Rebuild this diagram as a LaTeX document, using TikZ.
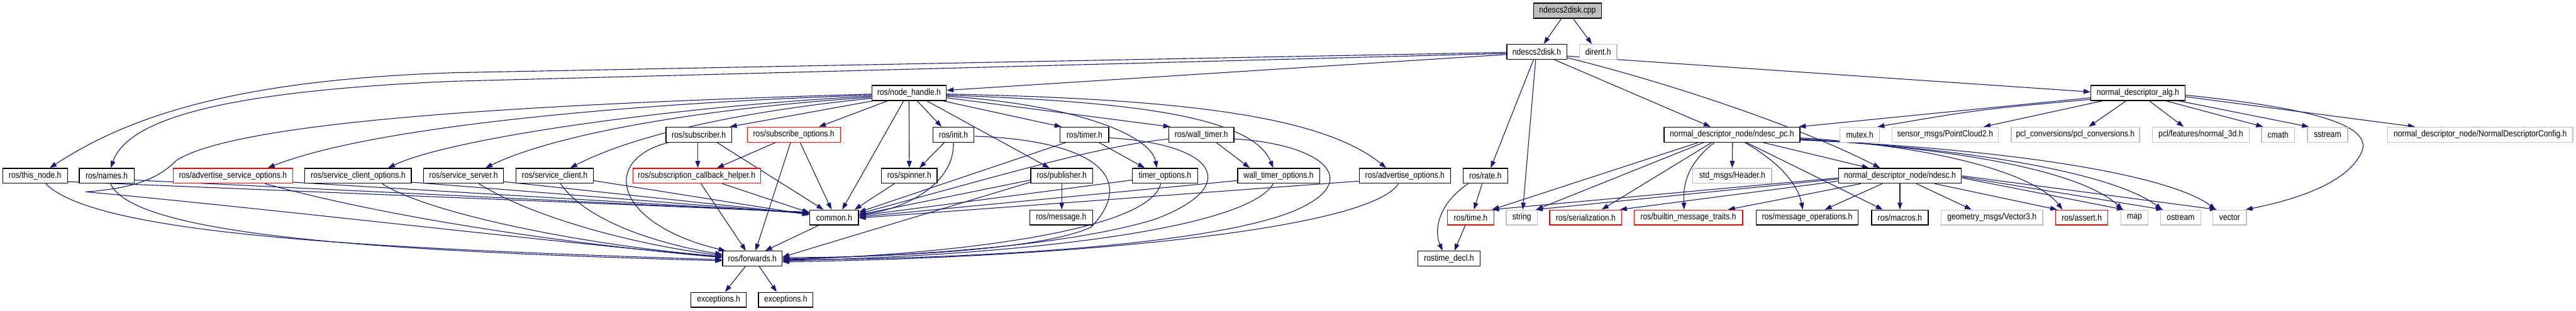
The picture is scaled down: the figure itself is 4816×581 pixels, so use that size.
\documentclass[tikz,border=0pt]{standalone}
\usepackage{fontspec}
\newfontfamily\dfont{Liberation Sans}[FakeStretch=0.87]
\usetikzlibrary{arrows.meta,calc}
\definecolor{edgeblue}{HTML}{191970}
\definecolor{extgray}{HTML}{BFBFBF}
\pgfdeclarelayer{bg}
\pgfsetlayers{bg,main}
\begin{document}
\begin{tikzpicture}[x=1pt,y=-1pt,
  box/.style={rectangle, minimum height=28pt, inner sep=0pt, font=\dfont\fontsize{16.5}{18}\selectfont, line width=1.5pt, fill=white},
  doc/.style={box, draw=black},
  ext/.style={box, draw=extgray},
  trunc/.style={box, draw=red},
  e/.style={draw=edgeblue, line width=1.3pt, -{Triangle[length=13pt,width=9pt]}}]
\useasboundingbox (0,0) rectangle (4816,581);
% row 0
\node[doc, fill=extgray, minimum width=127pt] (cpp) at (2930.5,20) {ndescs2disk.cpp};
% row 1
\node[doc, minimum width=112pt] (nh) at (2873,97) {ndescs2disk.h};
\node[ext, minimum width=70pt] (dirent) at (2988,97) {dirent.h};
% row 2
\node[doc, minimum width=139pt] (nodehandle) at (1699.5,174) {ros/node\_handle.h};
\node[doc, minimum width=176pt] (alg) at (3997,174) {normal\_descriptor\_alg.h};
% row 3
\node[doc, minimum width=123pt] (subscriber) at (1306.5,252) {ros/subscriber.h};
\node[trunc, minimum width=174pt] (subopts) at (1484,252) {ros/subscribe\_options.h};
\node[doc, minimum width=77pt] (init) at (1782.5,252) {ros/init.h};
\node[doc, minimum width=91pt] (timer) at (2027.5,252) {ros/timer.h};
\node[doc, minimum width=122pt] (walltimer) at (2246,252) {ros/wall\_timer.h};
\node[doc, minimum width=254pt] (ndescpc) at (3238,252) {normal\_descriptor\_node/ndesc\_pc.h};
\node[ext, minimum width=74pt] (mutex) at (3477,252) {mutex.h};
\node[ext, minimum width=199pt] (pc2) at (3636.5,252) {sensor\_msgs/PointCloud2.h};
\node[ext, minimum width=240pt] (pclconv) at (3880,252) {pcl\_conversions/pcl\_conversions.h};
\node[ext, minimum width=181pt] (normal3d) at (4114.5,252) {pcl/features/normal\_3d.h};
\node[ext, minimum width=62pt] (cmath) at (4259,252) {cmath};
\node[ext, minimum width=75pt] (sstream) at (4351.5,252) {sstream};
\node[ext, minimum width=346pt] (config) at (4637,252) {normal\_descriptor\_node/NormalDescriptorConfig.h};
% row 4
\node[doc, minimum width=121pt] (thisnode) at (65.5,329) {ros/this\_node.h};
\node[doc, minimum width=103pt] (names) at (199.5,329) {ros/names.h};
\node[trunc, minimum width=223pt] (advsrvopts) at (435.5,329) {ros/advertise\_service\_options.h};
\node[doc, minimum width=199pt] (srvcliopts) at (669.5,329) {ros/service\_client\_options.h};
\node[doc, minimum width=149pt] (srvserver) at (866.5,329) {ros/service\_server.h};
\node[doc, minimum width=144pt] (srvclient) at (1037,329) {ros/service\_client.h};
\node[trunc, minimum width=239pt] (subcb) at (1302.5,329) {ros/subscription\_callback\_helper.h};
\node[doc, minimum width=104pt] (spinner) at (1700,329) {ros/spinner.h};
\node[doc, minimum width=116pt] (publisher) at (1985,329) {ros/publisher.h};
\node[doc, minimum width=122pt] (timeropts) at (2178,329) {timer\_options.h};
\node[doc, minimum width=153pt] (walltimeropts) at (2390.5,329) {wall\_timer\_options.h};
\node[doc, minimum width=171pt] (advopts) at (2626.5,329) {ros/advertise\_options.h};
\node[doc, minimum width=84pt] (rate) at (2777,329) {ros/rate.h};
\node[ext, minimum width=147pt] (header) at (3238.5,329) {std\_msgs/Header.h};
\node[doc, minimum width=230pt] (ndesc) at (3552,329) {normal\_descriptor\_node/ndesc.h};
% row 5
\node[doc, minimum width=91pt] (common) at (1559.5,407) {common.h};
\node[doc, minimum width=118pt] (message) at (1984,407) {ros/message.h};
\node[trunc, minimum width=87pt] (time) at (2749.5,407) {ros/time.h};
\node[ext, minimum width=58pt] (string) at (2845,407) {string};
\node[trunc, minimum width=135pt] (serial) at (2964.5,407) {ros/serialization.h};
\node[trunc, minimum width=203pt] (traits) at (3156.5,407) {ros/builtin\_message\_traits.h};
\node[doc, minimum width=191pt] (msgops) at (3378.5,407) {ros/message\_operations.h};
\node[doc, minimum width=106pt] (macros) at (3552,407) {ros/macros.h};
\node[ext, minimum width=190pt] (vector3) at (3724,407) {geometry\_msgs/Vector3.h};
\node[trunc, minimum width=98pt] (assert) at (3892,407) {ros/assert.h};
\node[ext, minimum width=51pt] (map) at (3990.5,407) {map};
\node[ext, minimum width=76pt] (ostream) at (4077,407) {ostream};
\node[ext, minimum width=63pt] (vector) at (4168.5,407) {vector};
% row 6
\node[doc, minimum width=111pt] (forwards) at (1406.5,484) {ros/forwards.h};
\node[doc, minimum width=116pt] (rostimedecl) at (2709,484) {rostime\_decl.h};
% row 7
\node[doc, minimum width=103pt] (exc1) at (1343.5,561) {exceptions.h};
\node[doc, minimum width=102pt] (exc2) at (1469,561) {exceptions.h};

\begin{pgfonlayer}{bg}
% from ndescs2disk.cpp
\draw[e] ([xshift=-11.5pt]cpp.south) -- ([xshift=13pt]nh.north);
\draw[e] ([xshift=10.5pt]cpp.south) -- ([xshift=-12pt]dirent.north);
% from ndescs2disk.h
\draw[e] ([yshift=-1pt]nh.west) -- (850,136) .. controls (420,150) and (230,225) .. ([xshift=27.5pt]thisnode.north);
\draw[e] ([yshift=-3pt]nh.west) -- (850,152) .. controls (430,170) and (240,220) .. ([xshift=7.5pt]names.north);
\draw[e] ([yshift=-5pt]nh.west) -- ([yshift=5pt]nodehandle.east);
\draw[e] ([xshift=-6pt]nh.south) -- ([xshift=10pt]rate.north);
\draw[e] ([xshift=-2pt]nh.south) -- ([xshift=2pt]string.north);
\draw[e] ([xshift=33pt]nh.south) -- ([xshift=-40pt]ndescpc.north);
\draw[e] ([yshift=-11pt]nh.east) .. controls (3100,150) and (3350,230) .. ([xshift=-37pt]ndesc.north);
\draw[e] ([yshift=-8pt]nh.east) -- ([yshift=2pt]alg.west);
% from normal_descriptor_alg.h
\draw[e] ([yshift=-9pt]alg.west) -- ([xshift=125pt]ndescpc.north);
\draw[e] ([yshift=-12pt]alg.west) .. controls (3700,205) .. ([xshift=33pt]mutex.north);
\draw[e] ([xshift=-66pt]alg.south) -- ([xshift=72pt]pc2.north);
\draw[e] ([xshift=-22pt]alg.south) -- ([xshift=25pt]pclconv.north);
\draw[e] ([xshift=21pt]alg.south) -- ([xshift=-32pt]normal3d.north);
\draw[e] ([xshift=52pt]alg.south) -- ([xshift=-28pt]cmath.north);
\draw[e] ([xshift=76pt]alg.south) -- ([xshift=-35pt]sstream.north);
\draw[e] ([yshift=-7pt]alg.east) -- ([xshift=-122pt]config.north);
\draw[e] ([yshift=-4pt]alg.east) .. controls (4300,200) and (4440,230) .. (4415,285) .. controls (4390,340) and (4300,372) .. ([xshift=30pt]vector.north);
% from ros/node_handle.h
\draw[e] ([xshift=-67pt]nodehandle.south) -- ([xshift=58pt]subscriber.north);
\draw[e] ([xshift=-40pt]nodehandle.south) -- ([xshift=47pt]subopts.north);
\draw[e] ([xshift=15pt]nodehandle.south) -- ([xshift=-22pt]init.north);
\draw[e] (nodehandle.south) -- (spinner.north);
\draw[e] ([xshift=33pt]nodehandle.south) -- ([xshift=-23pt]publisher.north);
\draw[e] ([xshift=63pt]nodehandle.south) -- ([xshift=-43pt]timer.north);
\draw[e] ([yshift=-9pt]nodehandle.east) -- ([xshift=-58pt]walltimer.north);
\draw[e] ([yshift=-6pt]nodehandle.east) .. controls (2000,195) and (2150,250) .. ([xshift=-15pt]timeropts.north);
\draw[e] ([yshift=-4pt]nodehandle.east) .. controls (2100,190) and (2340,215) .. ([xshift=-10pt]walltimeropts.north);
\draw[e] ([yshift=-2pt]nodehandle.east) .. controls (2200,185) and (2470,215) .. ([xshift=-35pt]advopts.north);
\draw[e] ([yshift=-4pt]nodehandle.west) .. controls (1200,192) and (700,235) .. ([xshift=65pt]advsrvopts.north);
\draw[e] ([yshift=-6pt]nodehandle.west) .. controls (1300,196) and (850,255) .. ([xshift=56pt]srvcliopts.north);
\draw[e] ([yshift=-8pt]nodehandle.west) .. controls (1350,200) and (1050,245) .. ([xshift=41pt]srvserver.north);
\draw[e] ([yshift=-10pt]nodehandle.west) .. controls (1420,205) and (1200,245) .. ([xshift=29pt]srvclient.north);
\draw[e] ([xshift=-10pt]nodehandle.south) -- ([xshift=15pt]common.north);
\draw[e] ([yshift=-2pt]nodehandle.west) .. controls (1000,195) and (450,225) .. (330,300) .. controls (300,330) and (260,352) .. (160,359) .. controls (500,390) and (1000,450) .. ([yshift=3pt]forwards.west);
% row 3 sources
\draw[e] ([xshift=-57pt]subscriber.south) .. controls (1120,300) and (1150,420) .. ([xshift=-50pt]forwards.north);
\draw[e] ([xshift=-2pt]subscriber.south) -- ([xshift=2pt]subcb.north);
\draw[e] ([xshift=34pt]subscriber.south) -- ([xshift=-20pt]common.north);
\draw[e] ([xshift=-34pt]subopts.south) -- ([xshift=38pt]subcb.north);
\draw[e] ([xshift=-6pt]subopts.south) -- ([xshift=6pt]forwards.north);
\draw[e] ([xshift=12pt]subopts.south) -- ([xshift=-5pt]common.north);
\draw[e] ([xshift=-17pt]init.south) -- ([xshift=19pt]spinner.north);
\draw[e] (init.south) .. controls (1785,340) and (1700,390) .. ([yshift=5pt]common.east);
\draw[e] ([yshift=-3pt]init.east) .. controls (2040,262) and (2130,330) .. (2040,425) .. controls (1950,468) and (1650,482) .. ([yshift=2pt]forwards.east);
\draw[e] ([xshift=-35pt]timer.south) -- ([yshift=10pt]common.east);
\draw[e] ([xshift=27pt]timer.south) -- ([xshift=-38pt]timeropts.north);
\draw[e] ([yshift=-6pt]timer.east) .. controls (2280,270) and (2320,350) .. (2160,410) .. controls (2000,460) and (1700,480) .. (forwards.east);
\draw[e] ([yshift=-8pt]walltimer.west) .. controls (2050,275) and (1900,320) .. ([yshift=7pt]common.east);
\draw[e] ([xshift=28pt]walltimer.south) -- ([xshift=-54pt]walltimeropts.north);
\draw[e] ([yshift=-8pt]walltimer.east) .. controls (2480,270) and (2560,345) .. (2400,402) .. controls (2200,470) and (1700,486) .. ([yshift=-2pt]forwards.east);
% from ndesc_pc.h
\draw[e] ([xshift=-63pt]ndescpc.south) -- ([xshift=40pt]time.north);
\draw[e] ([xshift=-53pt]ndescpc.south) -- ([xshift=27pt]string.north);
\draw[e] ([xshift=-38pt]ndescpc.south) -- ([xshift=30pt]serial.north);
\draw[e] ([xshift=-33pt]ndescpc.south) .. controls (3150,310) and (3147,350) .. ([xshift=-8pt]traits.north);
\draw[e] ([xshift=1pt]ndescpc.south) -- (header.north);
\draw[e] ([xshift=24pt]ndescpc.south) .. controls (3320,300) and (3360,340) .. ([xshift=-8pt]msgops.north);
\draw[e] ([xshift=27pt]ndescpc.south) -- ([xshift=-32pt]macros.north);
\draw[e] ([xshift=58pt]ndescpc.south) -- ([xshift=-58pt]ndesc.north);
\draw[e] ([yshift=-6pt]ndescpc.east) .. controls (3600,272) and (3800,320) .. ([xshift=-36pt]assert.north);
\draw[e] ([yshift=-8pt]ndescpc.east) .. controls (3660,278) and (3890,320) .. ([xshift=-22pt]map.north);
\draw[e] ([yshift=-9pt]ndescpc.east) .. controls (3720,280) and (3960,330) .. ([xshift=-35pt]ostream.north);
\draw[e] ([yshift=-10pt]ndescpc.east) .. controls (3780,280) and (4060,330) .. ([xshift=-26pt]vector.north);
% from ndesc.h
\draw[e] ([yshift=-4pt]ndesc.west) -- ([xshift=40pt]time.north);
\draw[e] ([yshift=-6pt]ndesc.west) -- ([xshift=26pt]string.north);
\draw[e] ([yshift=-10pt]ndesc.west) -- ([xshift=64pt]serial.north);
\draw[e] ([xshift=-73pt]ndesc.south) -- ([xshift=74pt]traits.north);
\draw[e] ([xshift=-33pt]ndesc.south) -- ([xshift=33pt]msgops.north);
\draw[e] (ndesc.south) -- (macros.north);
\draw[e] ([xshift=31pt]ndesc.south) -- ([xshift=-38pt]vector3.north);
\draw[e] ([xshift=65pt]ndesc.south) -- ([xshift=-46pt]assert.north);
\draw[e] ([yshift=-4pt]ndesc.east) -- ([xshift=-20pt]map.north);
\draw[e] ([yshift=-2pt]ndesc.east) -- ([xshift=-33pt]ostream.north);
\draw[e] (ndesc.east) -- ([xshift=-24pt]vector.north);
% row 4 sources
\draw[e] ([yshift=-11pt]thisnode.east) -- ([yshift=10pt]common.west);
\draw[e] ([xshift=20pt]thisnode.south) .. controls (180,440) and (700,465) .. ([yshift=-2pt]forwards.west);
\draw[e] ([yshift=-8pt]names.east) -- ([yshift=9pt]common.west);
\draw[e] ([xshift=7pt]names.south) .. controls (250,440) and (700,470) .. ([yshift=-4pt]forwards.west);
\draw[e] ([yshift=-12pt]advsrvopts.east) -- ([yshift=8pt]common.west);
\draw[e] ([xshift=60pt]advsrvopts.south) .. controls (700,400) and (1000,450) .. ([yshift=2pt]forwards.west);
\draw[e] ([yshift=-12pt]srvcliopts.east) -- ([yshift=7pt]common.west);
\draw[e] ([xshift=45pt]srvcliopts.south) .. controls (800,400) and (1100,460) .. ([yshift=4pt]forwards.west);
\draw[e] ([yshift=-11pt]srvserver.east) -- ([yshift=6pt]common.west);
\draw[e] ([xshift=29pt]srvserver.south) .. controls (1000,410) and (1200,460) .. ([yshift=6pt]forwards.west);
\draw[e] ([yshift=-9pt]srvclient.east) -- ([yshift=5pt]common.west);
\draw[e] ([xshift=11pt]srvclient.south) .. controls (1100,420) and (1250,460) .. ([yshift=8pt]forwards.west);
\draw[e] ([xshift=8pt]subcb.south) -- ([xshift=-12pt]forwards.north);
\draw[e] ([xshift=48pt]subcb.south) -- ([yshift=9pt]common.west);
\draw[e] ([xshift=-28pt]spinner.south) -- ([xshift=38pt]common.north);
\draw[e] ([yshift=-8pt]publisher.west) -- ([yshift=5pt]common.east);
\draw[e] ([yshift=-12pt]publisher.west) -- ([yshift=3pt]forwards.east);
\draw[e] (publisher.south) -- ([xshift=1pt]message.north);
\draw[e] ([yshift=-8pt]timeropts.west) -- ([yshift=3pt]common.east);
\draw[e] ([xshift=-8pt]timeropts.south) .. controls (2150,430) and (1800,475) .. ([yshift=-2pt]forwards.east);
\draw[e] ([yshift=-9pt]walltimeropts.west) -- ([yshift=1pt]common.east);
\draw[e] ([xshift=-10pt]walltimeropts.south) .. controls (2330,430) and (1900,478) .. ([yshift=-4pt]forwards.east);
\draw[e] ([yshift=-10pt]advopts.west) -- ([yshift=-1pt]common.east);
\draw[e] ([xshift=-12pt]advopts.south) .. controls (2560,430) and (2000,482) .. ([yshift=-6pt]forwards.east);
\draw[e] ([xshift=-6pt]rate.south) -- ([xshift=6pt]time.north);
\draw[e] ([xshift=-32pt]rate.south) .. controls (2690,380) and (2680,430) .. ([xshift=-12pt]rostimedecl.north);
% rows 5/6
\draw[e] ([xshift=-29pt]common.south) -- ([xshift=24pt]forwards.north);
\draw[e] ([xshift=-10pt]time.south) -- ([xshift=10pt]rostimedecl.north);
\draw[e] ([xshift=-13pt]forwards.south) -- ([xshift=12pt]exc1.north);
\draw[e] ([xshift=13pt]forwards.south) -- ([xshift=-17pt]exc2.north);
\end{pgfonlayer}
\end{tikzpicture}
\end{document}
